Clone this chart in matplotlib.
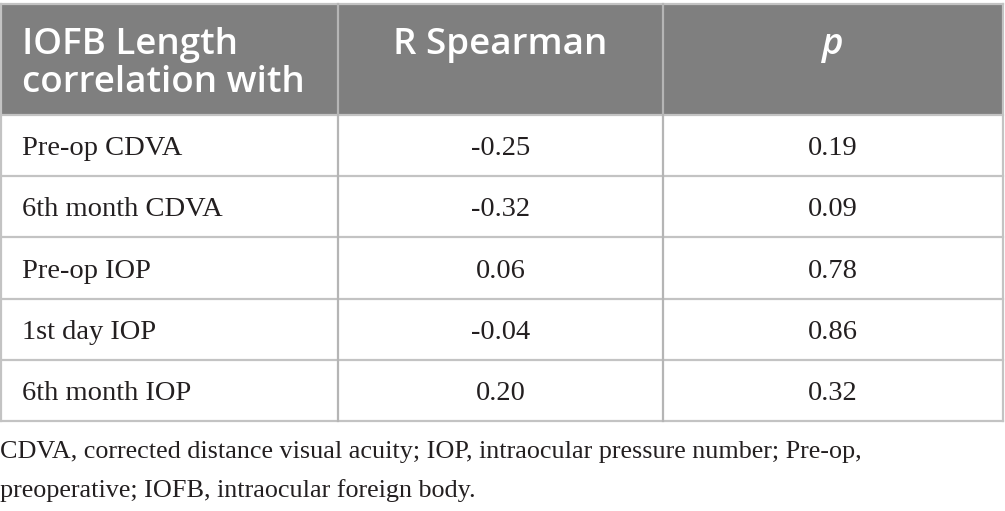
import matplotlib
matplotlib.use("Agg")
import matplotlib.pyplot as plt
from matplotlib.patches import Rectangle

# ---- data ----
header_left = ["IOFB Length", "correlation with"]
header_mid = "R Spearman"
header_right = "p"
row_labels = ["Pre-op CDVA", "6th month CDVA", "Pre-op IOP", "1st day IOP", "6th month IOP"]
r_spearman = [-0.25, -0.32, 0.06, -0.04, 0.20]
p_values = [0.19, 0.09, 0.78, 0.86, 0.32]
footnote_lines = [
    "CDVA, corrected distance visual acuity; IOP, intraocular pressure number; Pre-op,",
    "preoperative; IOFB, intraocular foreign body.",
]

W, H = 1005, 511
fig = plt.figure(figsize=(W / 100, H / 100), dpi=100)
ax = fig.add_axes([0, 0, 1, 1])
ax.set_xlim(0, W)
ax.set_ylim(H, 0)
ax.axis("off")

# layout
x0, x1, x2, x3 = 1, 338, 663, 1003
top, head_bot = 4, 115
row_h = (421 - head_bot) / len(row_labels)
grid_col = "#c3c3c3"
head_col = "#7f7f7f"

sans = ["Open Sans", "DejaVu Sans"]
serif = ["Liberation Serif", "DejaVu Serif"]
hfs = 26.5
txt_col = "#231f20"

# header
ax.add_patch(Rectangle((x0, top), x3 - x0, head_bot - top, facecolor=head_col, edgecolor="none", zorder=1))
for k, line in enumerate(header_left):
    ax.text(22, 54 + k * 38, line, color="white", fontsize=hfs, family=sans, fontweight="semibold",
            va="baseline", ha="left", zorder=3)
ax.text((x1 + x2) / 2, 54, header_mid, color="white", fontsize=hfs, family=sans, fontweight="semibold",
        va="baseline", ha="center", zorder=3)
ax.text((x2 + x3) / 2, 54, header_right, color="white", fontsize=hfs, family=sans, fontweight="semibold",
        style="italic", va="baseline", ha="center", zorder=3)

# body
for i, (lab, r, p) in enumerate(zip(row_labels, r_spearman, p_values)):
    yc = head_bot + (i + 0.5) * row_h
    yb = yc + 9.5
    ax.text(22, yb, lab, fontsize=20.5, family=serif, va="baseline", ha="left", color=txt_col)
    ax.text((x1 + x2) / 2, yb, f"{r:.2f}", fontsize=20.5, family=serif, va="baseline", ha="center", color=txt_col)
    ax.text((x2 + x3) / 2, yb, f"{p:.2f}", fontsize=20.5, family=serif, va="baseline", ha="center", color=txt_col)

# grid lines
lw = 1.6
ax.plot([x0, x3], [top, top], color=grid_col, lw=lw, zorder=2)
for i in range(len(row_labels) + 1):
    y = head_bot + i * row_h
    ax.plot([x0, x3], [y, y], color=grid_col, lw=lw, zorder=2)
bottom = head_bot + len(row_labels) * row_h
for x in (x0, x1, x2, x3):
    ax.plot([x, x], [top, bottom], color=grid_col if x in (x0, x3) else "#b5b5b5", lw=lw, zorder=2)

# footnote
for j, line in enumerate(footnote_lines):
    ax.text(0, 458 + j * 39, line, fontsize=18.8, family=serif, va="baseline", ha="left", color=txt_col)

fig.savefig("out.png", dpi=100)
